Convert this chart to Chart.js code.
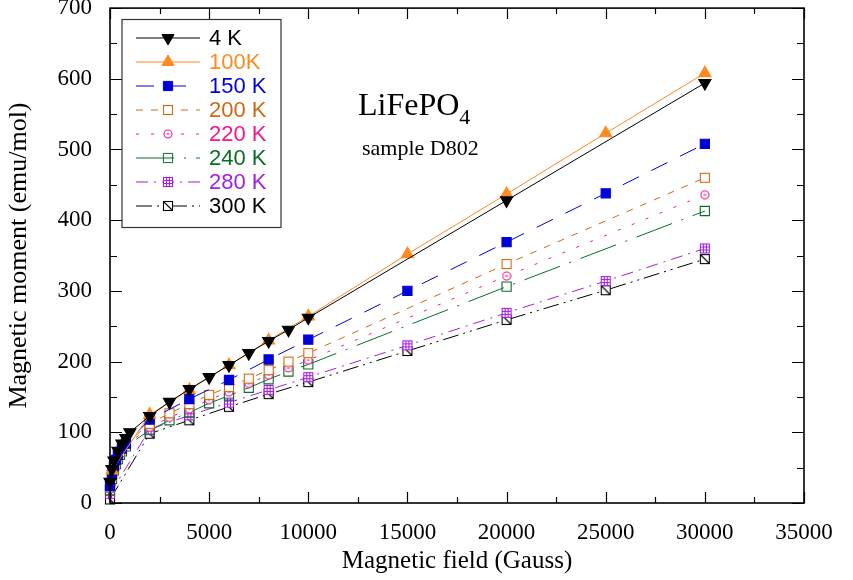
<!DOCTYPE html>
<html>
<head>
<meta charset="utf-8">
<script src="https://cdn.jsdelivr.net/npm/chart.js@4/dist/chart.umd.min.js"></script>
<style>
  html, body { margin: 0; padding: 0; background: #fff; }
  #wrap { width: 853px; height: 580px; position: relative; }
</style>
</head>
<body>
<div id="wrap"><canvas id="chart" width="853" height="580"></canvas></div>
<script>
// ---- data ----
const seriesLabels = ['4 K', '100K', '150 K', '200 K', '220 K', '240 K', '280 K', '300 K'];

const field4K = [0, 100, 200, 400, 600, 800, 1000, 2000, 3000, 4000, 5000, 6000, 7000, 8000, 9000, 10000, 20000, 30000];
const moment4K = [30, 48, 60, 74, 84, 92, 100, 123, 143, 161, 178, 195, 212, 229, 245, 262, 428, 594];

const field100K = [100, 2000, 4000, 6000, 8000, 10000, 15000, 20000, 25000, 30000];
const moment100K = [46, 125, 160, 195, 230, 264, 352, 437, 523, 608];

const field150K = [0, 100, 200, 300, 400, 600, 800, 2000, 4000, 6000, 8000, 10000, 15000, 20000, 25000, 30000];
const moment150K = [24, 40, 52, 61, 68, 77, 84, 118, 147, 174, 203, 231, 300, 369, 438, 508];

const fieldMid = [0, 100, 200, 300, 400, 500, 600, 800, 2000, 3000, 4000, 5000, 6000, 7000, 8000, 9000, 10000, 20000, 30000];
const moment200K = [22, 38, 50, 59, 66, 72, 77, 84, 112, 127, 140, 153, 164, 176, 188, 200, 212, 338, 460];
const moment220K = [20, 36, 48, 57, 64, 70, 75, 82, 107, 121, 133, 146, 157, 169, 181, 191, 202, 321, 436];
const moment240K = [18, 34, 46, 55, 62, 68, 73, 80, 103, 117, 128, 141, 152, 163, 175, 186, 196, 306, 413];

const fieldHigh = [0, 2000, 4000, 6000, 8000, 10000, 15000, 20000, 25000, 30000];
const moment280K = [13, 104, 124, 142, 160, 178, 223, 269, 314, 360];
const moment300K = [5, 98, 117, 136, 154, 171, 215, 259, 301, 345];

const xTicks = [0, 5000, 10000, 15000, 20000, 25000, 30000, 35000];
const yTicks = [0, 100, 200, 300, 400, 500, 600, 700];

// ---- marker images ----
function boxMarker(color, kind) {
    const c = document.createElement('canvas');
    c.width = 12; c.height = 12;
    const g = c.getContext('2d');
    g.fillStyle = '#fff';
    g.fillRect(1.5, 1.5, 9, 9);
    g.strokeStyle = color;
    g.lineWidth = 1.1;
    g.strokeRect(1.5, 1.5, 9, 9);
    g.beginPath();
    if (kind === 'grid') {
        g.moveTo(4.5, 1.5); g.lineTo(4.5, 10.5);
        g.moveTo(7.5, 1.5); g.lineTo(7.5, 10.5);
        g.moveTo(1.5, 4.5); g.lineTo(10.5, 4.5);
        g.moveTo(1.5, 7.5); g.lineTo(10.5, 7.5);
    } else if (kind === 'diag') {
        g.moveTo(1.5, 1.5); g.lineTo(10.5, 10.5);
    }
    g.stroke();
    return c;
}

function circleMarker(color) {
    const c = document.createElement('canvas');
    c.width = 10; c.height = 10;
    const g = c.getContext('2d');
    g.fillStyle = '#fff';
    g.strokeStyle = color;
    g.lineWidth = 1.1;
    g.beginPath();
    g.arc(5, 5, 4, 0, Math.PI * 2);
    g.fill();
    g.stroke();
    g.beginPath();
    g.moveTo(3.5, 5); g.lineTo(6.5, 5);
    g.stroke();
    return c;
}

const colors = ['#000000', '#FF8A1F', '#0000D8', '#CC6A14', '#F0188C', '#0A6E28', '#A020E0', '#000000'];

function points(xs, ys) {
    return xs.map((x, i) => ({ x: x, y: ys[i] }));
}

const styles = [
    { pointStyle: 'triangle', rotation: 180, radius: 7, fill: colors[0], dash: [] },
    { pointStyle: 'triangle', rotation: 0, radius: 7, fill: colors[1], dash: [] },
    { pointStyle: 'rect', rotation: 0, radius: 6.5, fill: colors[2], dash: [18, 14] },
    { pointStyle: boxMarker(colors[3], ''), rotation: 0, radius: 6, fill: '#fff', dash: [7, 8] },
    { pointStyle: circleMarker(colors[4]), rotation: 0, radius: 5, fill: '#fff', dash: [3, 12] },
    { pointStyle: 'rect', rotation: 0, radius: 6.5, fill: 'rgba(0,0,0,0)', dash: [38, 10, 2, 10] },
    { pointStyle: boxMarker(colors[6], 'grid'), rotation: 0, radius: 6, fill: '#fff', dash: [12, 6, 2, 6] },
    { pointStyle: boxMarker(colors[7], 'diag'), rotation: 0, radius: 6, fill: '#fff', dash: [16, 5, 2, 5, 2, 5] }
];

const dataSets = [
    points(field4K, moment4K),
    points(field100K, moment100K),
    points(field150K, moment150K),
    points(fieldMid, moment200K),
    points(fieldMid, moment220K),
    points(fieldMid, moment240K),
    points(fieldHigh, moment280K),
    points(fieldHigh, moment300K)
];

const datasets = dataSets.map((d, i) => ({
    label: seriesLabels[i],
    data: d,
    showLine: true,
    borderColor: colors[i],
    borderWidth: 1,
    borderDash: styles[i].dash,
    backgroundColor: styles[i].fill,
    pointStyle: styles[i].pointStyle,
    pointRotation: styles[i].rotation,
    pointRadius: styles[i].radius,
    pointBorderWidth: 1.1,
    pointBorderColor: colors[i],
    pointBackgroundColor: styles[i].fill,
    clip: false
}));

const serif = "'Liberation Serif', 'Times New Roman', serif";
const sans = "'Liberation Sans', Arial, sans-serif";

// frame, inward ticks, legend box and the annotation
const decorPlugin = {
    id: 'decor',
    afterDraw(chart) {
        const ctx = chart.ctx;
        const a = chart.chartArea;
        const xs = chart.scales.x, ys = chart.scales.y;
        ctx.save();
        ctx.setLineDash([]);
        ctx.strokeStyle = '#000';
        ctx.lineWidth = 1.2;
        ctx.beginPath();
        for (let v = 0; v <= 35000; v += 2500) {
            const px = Math.round(xs.getPixelForValue(v)) + 0.5;
            const len = v % 5000 === 0 ? 11 : 6;
            ctx.moveTo(px, a.bottom); ctx.lineTo(px, a.bottom - len);
            ctx.moveTo(px, a.top); ctx.lineTo(px, a.top + len);
        }
        for (let v = 0; v <= 700; v += 50) {
            const py = Math.round(ys.getPixelForValue(v)) + 0.5;
            const len = v % 100 === 0 ? 12 : 7;
            ctx.moveTo(a.left, py); ctx.lineTo(a.left + len, py);
            ctx.moveTo(a.right, py); ctx.lineTo(a.right - len, py);
        }
        ctx.stroke();
        ctx.lineWidth = 1.6;
        ctx.strokeRect(a.left, a.top, a.right - a.left, a.bottom - a.top);

        // legend
        ctx.lineWidth = 1.2;
        ctx.strokeStyle = '#333';
        ctx.strokeRect(122, 19.5, 159, 208);
        ctx.font = '22px ' + sans;
        ctx.textBaseline = 'middle';
        ctx.textAlign = 'left';
        chart.data.datasets.forEach((ds, i) => {
            const y = 38 + i * 24;
            ctx.strokeStyle = ds.borderColor;
            ctx.lineWidth = 1;
            ctx.setLineDash(ds.borderDash);
            ctx.beginPath();
            ctx.moveTo(136, y); ctx.lineTo(200, y);
            ctx.stroke();
            ctx.setLineDash([]);
            ctx.fillStyle = ds.pointBackgroundColor;
            ctx.strokeStyle = ds.pointBorderColor;
            Chart.helpers.drawPoint(ctx, {
                pointStyle: ds.pointStyle,
                rotation: ds.pointRotation,
                radius: ds.pointRadius,
                borderWidth: 1.1
            }, 168, y);
            ctx.fillStyle = ds.borderColor;
            ctx.fillText(ds.label, 209, y + 1);
        });

        // annotation
        ctx.fillStyle = '#000';
        ctx.textBaseline = 'alphabetic';
        ctx.font = '32px ' + serif;
        ctx.fillText('LiFePO', 358, 115);
        const w = ctx.measureText('LiFePO').width;
        ctx.font = '22px ' + serif;
        ctx.fillText('4', 358 + w, 124);
        ctx.fillText('sample D802', 362, 155);
        ctx.restore();
    }
};

new Chart(document.getElementById('chart'), {
    type: 'scatter',
    data: { datasets },
    plugins: [decorPlugin],
    options: {
        responsive: false,
        animation: false,
        layout: { padding: { top: 8, right: 49, left: 0, bottom: 0 } },
        plugins: {
            legend: { display: false },
            tooltip: { enabled: false }
        },
        scales: {
            x: {
                type: 'linear',
                min: 0,
                max: 35000,
                afterFit: (s) => { s.height = 77; s.paddingLeft = 0; s.paddingRight = 0; },
                afterBuildTicks: (s) => { s.ticks = xTicks.map(v => ({ value: v })); },
                grid: { display: false, drawTicks: false },
                border: { display: false },
                ticks: {
                    color: '#000',
                    padding: 16,
                    maxRotation: 0,
                    font: { family: serif, size: 23 },
                    callback: (v) => String(v)
                },
                title: {
                    display: true,
                    text: 'Magnetic field (Gauss)',
                    color: '#000',
                    font: { family: serif, size: 25 },
                    padding: { top: 0, bottom: 4 }
                }
            },
            y: {
                type: 'linear',
                min: 0,
                max: 700,
                afterFit: (s) => { s.width = 110; s.paddingTop = 0; s.paddingBottom = 0; },
                afterBuildTicks: (s) => { s.ticks = yTicks.map(v => ({ value: v })); },
                grid: { display: false, drawTicks: false },
                border: { display: false },
                ticks: {
                    color: '#000',
                    padding: 18,
                    font: { family: serif, size: 23 },
                    callback: (v) => String(v)
                },
                title: {
                    display: true,
                    text: 'Magnetic moment (emu/mol)',
                    color: '#000',
                    font: { family: serif, size: 26 },
                    padding: { top: 4, bottom: 0 }
                }
            }
        }
    }
});
</script>
</body>
</html>
